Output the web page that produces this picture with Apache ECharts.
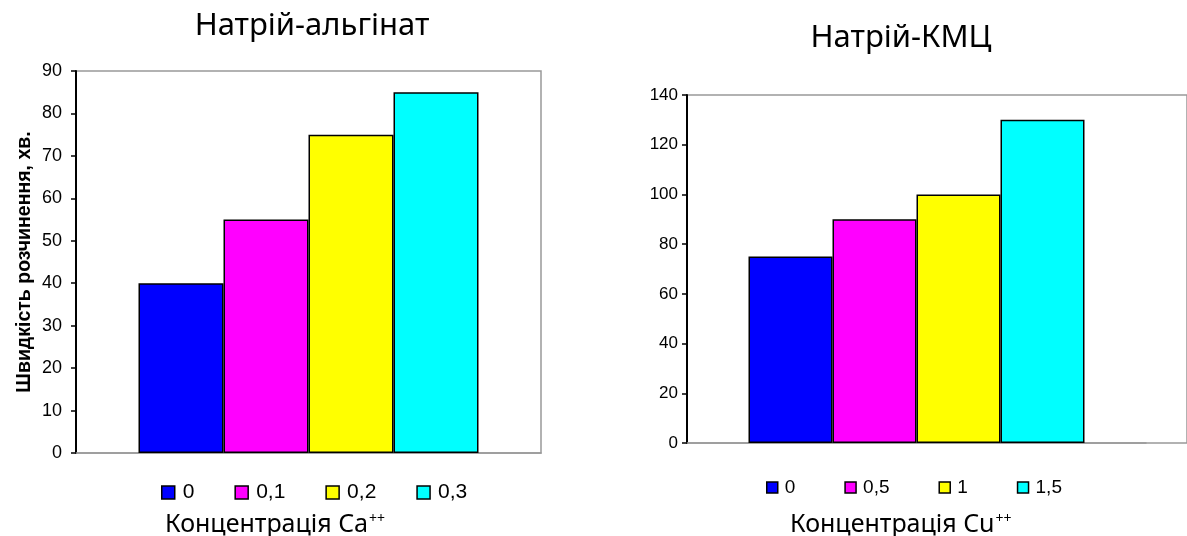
<!DOCTYPE html>
<html>
<head>
<meta charset="utf-8">
<script src="https://cdn.jsdelivr.net/npm/echarts@6/dist/echarts.min.js"></script>
<style>
html,body{margin:0;padding:0;background:#fff;}
#chart{width:1187px;height:536px;}
</style>
</head>
<body>
<div id="chart"></div>
<script>
// ---- data ----
const leftTitle = 'Натрій-альгінат';
const rightTitle = 'Натрій-КМЦ';
const leftCategories = ['0', '0,1', '0,2', '0,3'];
const leftValues = [40, 55, 75, 85];
const rightCategories = ['0', '0,5', '1', '1,5'];
const rightValues = [75, 90, 100, 130];
const barColors = ['#0000FF', '#FF00FF', '#FFFF00', '#00FFFF'];
const leftYLabel = 'Швидкість розчинення, хв.';
const leftXLabel = 'Концентрація Ca';
const rightXLabel = 'Концентрація Cu';

const chart = echarts.init(document.getElementById('chart'), null, {renderer: 'canvas'});

const series = [];
leftCategories.forEach((c, i) => {
  series.push({
    name: c, type: 'bar', xAxisIndex: 0, yAxisIndex: 0,
    data: [leftValues[i]], barWidth: 85, barGap: '0%',
    itemStyle: {color: barColors[i], borderColor: '#000', borderWidth: 1.5},
    emphasis: {disabled: true}
  });
});
rightCategories.forEach((c, i) => {
  series.push({
    name: c, type: 'bar', xAxisIndex: 1, yAxisIndex: 1,
    data: [rightValues[i]], barWidth: 84, barGap: '0%',
    itemStyle: {color: barColors[i], borderColor: '#000', borderWidth: 1.5},
    emphasis: {disabled: true}
  });
});

const titleFont = '"Noto Sans", "Open Sans", sans-serif';
const arialFont = '"Liberation Sans", Arial, sans-serif';
const supRich = {sup: {fontSize: 14, verticalAlign: 'top', fontFamily: titleFont, color: '#000', padding: [0, 0, 0, 1]}};

const yAxisCommon = {
  type: 'value', min: 0,
  axisLine: {show: true, lineStyle: {color: '#000', width: 2}},
  axisTick: {show: true, inside: false, length: 5, lineStyle: {color: '#000', width: 1.5}},
  splitLine: {show: false},
  axisLabel: {color: '#000', fontFamily: arialFont}
};
const xAxisCommon = {
  type: 'category',
  axisLine: {show: true, lineStyle: {color: '#999', width: 1.5}},
  axisTick: {show: false}, axisLabel: {show: false}
};

chart.setOption({
  animation: false,
  backgroundColor: '#fff',
  title: [
    {text: leftTitle, left: 307, textAlign: 'center', top: 6,
     textStyle: {fontFamily: titleFont, fontSize: 31, fontWeight: 'normal', color: '#000'}},
    {text: rightTitle, left: 896, textAlign: 'center', top: 18,
     textStyle: {fontFamily: titleFont, fontSize: 31, fontWeight: 'normal', color: '#000'}},
    {text: leftXLabel + '{sup|++}', left: 160, top: 507,
     textStyle: {fontFamily: titleFont, fontSize: 25, fontWeight: 'normal', color: '#000', rich: supRich}},
    {text: rightXLabel + '{sup|++}', left: 785, top: 507,
     textStyle: {fontFamily: titleFont, fontSize: 25, fontWeight: 'normal', color: '#000', rich: supRich}}
  ],
  legend: [
    {data: leftCategories, left: 156, top: 477, itemWidth: 13, itemHeight: 13, itemGap: 40,
     icon: 'rect', selectedMode: false,
     itemStyle: {borderColor: '#000', borderWidth: 1.5},
     textStyle: {fontFamily: arialFont, fontSize: 21, color: '#000', padding: [0, 0, 0, 3]}},
    {data: rightCategories, left: 761, top: 473, itemWidth: 11, itemHeight: 11, itemGap: 49,
     icon: 'rect', selectedMode: false,
     itemStyle: {borderColor: '#000', borderWidth: 1.5},
     textStyle: {fontFamily: arialFont, fontSize: 19, color: '#000', padding: [0, 0, 0, 2]}}
  ],
  grid: [
    {left: 76, top: 71, width: 465, height: 382, show: true, borderColor: '#999', borderWidth: 1.5, backgroundColor: 'transparent'},
    {left: 687, top: 95, width: 459, height: 348, show: false},
    {left: 687, top: 95, width: 520, height: 348, show: true, borderColor: '#999', borderWidth: 1.5, backgroundColor: 'transparent'}
  ],
  xAxis: [
    Object.assign({}, xAxisCommon, {gridIndex: 0, data: ['a']}),
    Object.assign({}, xAxisCommon, {gridIndex: 1, data: ['b']}),
    {type: 'category', gridIndex: 2, data: ['c'], show: false}
  ],
  yAxis: [
    Object.assign({}, yAxisCommon, {
      gridIndex: 0, max: 90, interval: 10,
      axisLabel: Object.assign({}, yAxisCommon.axisLabel, {fontSize: 18, margin: 14}),
      name: leftYLabel, nameLocation: 'middle', nameGap: 41,
      nameTextStyle: {fontFamily: arialFont, fontWeight: 'bold', fontSize: 19.5, color: '#000'}
    }),
    Object.assign({}, yAxisCommon, {
      gridIndex: 1, max: 140, interval: 20,
      axisLabel: Object.assign({}, yAxisCommon.axisLabel, {fontSize: 17, margin: 9})
    }),
    {type: 'value', gridIndex: 2, show: false, min: 0, max: 140}
  ],
  series: series
});
</script>
</body>
</html>
